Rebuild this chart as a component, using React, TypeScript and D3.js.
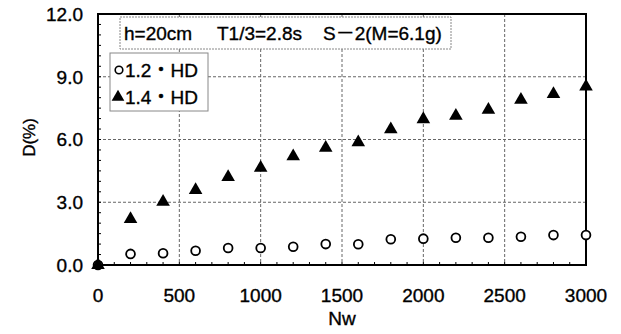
import React from "react";
import * as d3 from "d3";

const nwValues = [0, 200, 400, 600, 800, 1000, 1200, 1400, 1600, 1800, 2000, 2200, 2400, 2600, 2800, 3000];
const hd12 = [0, 0.53, 0.56, 0.68, 0.81, 0.81, 0.87, 1.0, 0.99, 1.23, 1.26, 1.3, 1.3, 1.35, 1.43, 1.43];
const hd14 = [0, 2.2, 3.02, 3.58, 4.2, 4.65, 5.2, 5.6, 5.86, 6.49, 6.97, 7.13, 7.42, 7.9, 8.17, 8.53];
const xTicks = [0, 500, 1000, 1500, 2000, 2500, 3000];
const yTicks = [0, 3, 6, 9, 12];
const seriesNames = ["1.2・HD", "1.4・HD"];
const annotation = ["h=20cm", "T1/3=2.8s", "S－2(M=6.1g)"];
const xTitle = "Nw";
const yTitle = "D(%)";

const W = 621;
const H = 334;
const FONT = "'Liberation Sans', Arial, 'Noto Sans CJK JP', sans-serif";

export default function App() {
  const x = d3.scaleLinear().domain([0, 3000]).range([98, 586]);
  const y = d3.scaleLinear().domain([0, 12]).range([265, 14]);
  const [x0, x1] = x.range();
  const [y0, y1] = y.range();
  const xMinor = d3.range(0, 3001, 100);
  const yMinor = d3.range(0, 12.01, 0.5);
  const tri = d3.symbol().type(d3.symbolTriangle).size(80)();
  const triLegend = d3.symbol().type(d3.symbolTriangle).size(70)();
  const txt = { fill: "#000", stroke: "#000", strokeWidth: 0.35 };

  return (
    <svg width={W} height={H} style={{ position: "absolute", left: 0, top: 0, background: "#fff" }} fontFamily={FONT}>
      <rect x={0} y={0} width={W} height={H} fill="#fff" />
      {/* grid */}
      {xTicks.slice(1, -1).map((t) => (
        <line key={"gx" + t} x1={x(t)} x2={x(t)} y1={y1} y2={y0} stroke="#666" strokeWidth={1} strokeDasharray="3,2" />
      ))}
      {yTicks.slice(1, -1).map((t) => (
        <line key={"gy" + t} x1={x0} x2={x1} y1={y(t)} y2={y(t)} stroke="#666" strokeWidth={1} strokeDasharray="3,2" />
      ))}
      {/* minor ticks */}
      {xMinor.map((t) => (
        <line key={"mx" + t} x1={x(t)} x2={x(t)} y1={y0} y2={y0 - 3} stroke="#000" strokeWidth={1} />
      ))}
      {yMinor.map((t) => (
        <line key={"my" + t} x1={x0} x2={x0 + 3} y1={y(t)} y2={y(t)} stroke="#000" strokeWidth={1} />
      ))}
      {/* frame */}
      <rect x={x0} y={y1} width={x1 - x0} height={y0 - y1} fill="none" stroke="#000" strokeWidth={2} />
      {/* tick labels */}
      {yTicks.map((t) => (
        <text key={"ly" + t} x={83} y={y(t)} dy="0.36em" textAnchor="end" fontSize={19} {...txt}>
          {t.toFixed(1)}
        </text>
      ))}
      {xTicks.map((t) => (
        <text key={"lx" + t} x={x(t)} y={301.5} textAnchor="middle" fontSize={19} {...txt}>
          {t}
        </text>
      ))}
      <text x={(x0 + x1) / 2} y={325} textAnchor="middle" fontSize={19} {...txt}>{xTitle}</text>
      <text transform={`translate(35,${(y0 + y1) / 2 - 2}) rotate(-90)`} textAnchor="middle" fontSize={17} {...txt}>{yTitle}</text>
      {/* annotation box */}
      <rect x={120} y={17} width={331} height={32} fill="#fff" stroke="#888" strokeWidth={1} strokeDasharray="2,1" />
      <text x={124} y={40} fontSize={19} {...txt}>{annotation[0]}</text>
      <text x={217} y={40} fontSize={19} {...txt}>{annotation[1]}</text>
      <text x={323} y={40} fontSize={19} {...txt}>{annotation[2]}</text>
      {/* legend */}
      <rect x={110} y={53} width={98} height={58} fill="#fff" stroke="#888" strokeWidth={1} />
      <circle cx={119} cy={70} r={3.8} fill="#fff" stroke="#000" strokeWidth={1.6} />
      <text x={125} y={76.5} fontSize={19} {...txt}>{seriesNames[0]}</text>
      <path d={triLegend} transform="translate(118,97)" fill="#000" />
      <text x={125} y={104} fontSize={19} {...txt}>{seriesNames[1]}</text>
      {/* data */}
      {nwValues.map((n, i) => (
        <circle key={"c" + n} cx={x(n)} cy={y(hd12[i])} r={4.4} fill="#fff" stroke="#000" strokeWidth={1.8} />
      ))}
      {nwValues.map((n, i) => (
        <path key={"t" + n} d={tri} transform={`translate(${x(n)},${y(hd14[i])})`} fill="#000" />
      ))}
    </svg>
  );
}
